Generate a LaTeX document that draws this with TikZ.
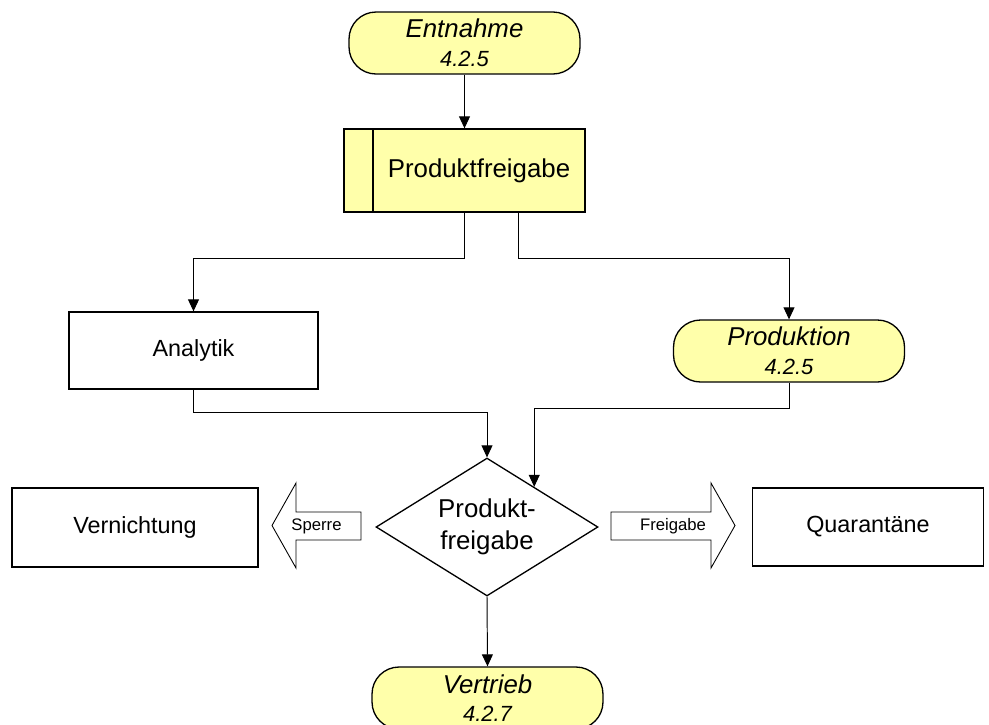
\documentclass[tikz,border=0pt]{standalone}
\usepackage{fontspec}
\setmainfont{Liberation Sans}
\usetikzlibrary{arrows.meta,shapes.geometric,calc}
\definecolor{termyellow}{RGB}{255,255,170}
\newcommand\nummer{\fontsize{12.5}{16.3}\selectfont\itshape}
\begin{document}
\begin{tikzpicture}[x=0.02cm, y=-0.02cm, >={Triangle[length=6.8pt,width=6.2pt]},
    terminal/.style={draw, line width=.75pt, fill=termyellow, rounded corners=.54cm,
        minimum width=4.62cm, minimum height=1.24cm, inner sep=0pt, align=center,
        font=\fontsize{14.7}{16.3}\selectfont\itshape},
    subproc/.style={draw, line width=.75pt, fill=termyellow, minimum width=4.82cm,
        minimum height=1.66cm, font=\fontsize{14.7}{17}\selectfont,
        path picture={\draw[line width=.75pt] ([xshift=.58cm]path picture bounding box.north west)
            -- ([xshift=.58cm]path picture bounding box.south west);}},
    taetig/.style={draw, line width=.75pt, minimum height=1.56cm, font=\fontsize{13.3}{16}\selectfont},
    entscheid/.style={draw, line width=.75pt, diamond, aspect=1.6, minimum width=4.44cm,
        minimum height=2.76cm, inner sep=0pt, align=center, font=\fontsize{14.7}{18.2}\selectfont},
    blockpfeil/.style={draw, line width=.5pt, fill=white},
    klein/.style={font=\fontsize{9.5}{11}\selectfont},
    verb/.style={->, line width=.55pt}]
    \useasboundingbox (0,0) rectangle (989,724);

    \node[terminal] (ent) at (464.5,43) {Entnahme\\{\nummer 4.2.5}};
    \node[subproc] (prod) at (464.5,170.5) {\hspace*{.58cm}Produktfreigabe};
    \node[taetig, minimum width=4.98cm, minimum height=1.54cm] (ana) at (193.5,350.5) {Analytik};
    \node[terminal] (pion) at (789,351) {Produktion\\{\nummer 4.2.5}};
    \node[entscheid] (dec) at (487,527) {Produkt-\\freigabe};
    \node[taetig, minimum width=4.92cm, minimum height=1.58cm] (vern) at (135,527.5) {Vernichtung};
    \node[taetig, minimum width=4.62cm] (quar) at (868,527) {Quarant\"ane};
    \node[terminal] (vert) at (487.5,698) {Vertrieb\\{\nummer 4.2.7}};

    \draw[blockpfeil] (361,512)--(296,512)--(296,483)--(272,525.5)--(296,568)--(296,540)--(361,540)--cycle;
    \draw[blockpfeil] (611,512)--(711,512)--(711,483)--(735,525.5)--(711,568)--(711,540)--(611,540)--cycle;
    \node[klein] (sperre) at (316.5,526) {Sperre};
    \node[klein] (freig) at (673,526) {Freigabe};

    \draw[verb] (ent) -- (prod);
    \draw[verb] (prod.south) -- ++(0,46) -| (ana.north);
    \draw[verb] ([xshift=1.08cm]prod.south) -- ++(0,46) -| (pion.north);
    \draw[verb] (ana.south) -- ++(0,23) -| (dec.north);
    \draw[verb] (pion.south) -- ++(0,26) -| ($(dec.north)!.423!(dec.east)$);
    \draw[verb] (dec.south) -- (vert.north);
\end{tikzpicture}
\end{document}
